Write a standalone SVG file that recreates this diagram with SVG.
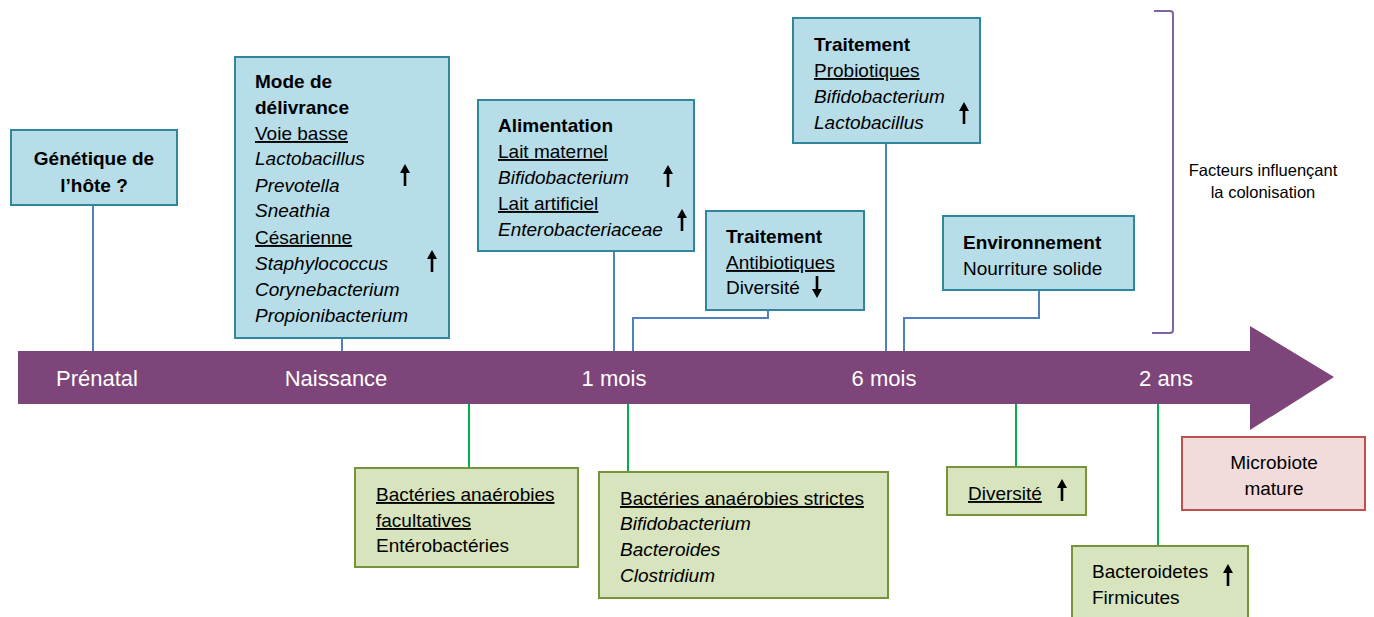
<svg xmlns="http://www.w3.org/2000/svg" xmlns:xlink="http://www.w3.org/1999/xlink" width="1374" height="617" viewBox="0 0 1374 617">
<style>
text{font-family:"Liberation Sans",Arial,sans-serif;font-size:19px;fill:#000}
.b{font-weight:bold}
.i{font-style:italic}
.u{text-decoration:underline}
.c{text-anchor:middle}
.ax{fill:#fff;font-size:22px;text-anchor:middle}
.blue{fill:#b7dde8;stroke:#31859c;stroke-width:2}
.green{fill:#d7e4bd;stroke:#77933c;stroke-width:2}
.pink{fill:#f2dcdb;stroke:#c0504d;stroke-width:2}
.cb{fill:none;stroke:#4f81bd;stroke-width:2}
.cg{fill:none;stroke:#00b050;stroke-width:2}
</style>
<defs>
<g id="up"><line x1="0" y1="22" x2="0" y2="7" stroke="#000" stroke-width="2.6"/><polygon points="-5,9 0,0 5,9" fill="#000"/></g>
<g id="down"><line x1="0" y1="0" x2="0" y2="15" stroke="#000" stroke-width="2.6"/><polygon points="-5,13 0,22 5,13" fill="#000"/></g>
</defs>
<rect width="1374" height="617" fill="#fff"/>

<g id="timeline">
<polygon points="18,351 1250,351 1250,326 1334,377 1250,430 1250,404 18,404" fill="#7e457a"/>
<text class="ax" x="97" y="386">Prénatal</text>
<text class="ax" x="336" y="386">Naissance</text>
<text class="ax" x="614" y="386">1 mois</text>
<text class="ax" x="884" y="386">6 mois</text>
<text class="ax" x="1166" y="386">2 ans</text>
</g>

<g id="connectors">
<path class="cb" d="M93,205 V351"/>
<path class="cb" d="M342,338 V351"/>
<path class="cb" d="M614,251 V351"/>
<path class="cb" d="M768,310 V318 H633 V351"/>
<path class="cb" d="M886,143 V351"/>
<path class="cb" d="M1039,290 V318 H904 V351"/>
<path class="cg" d="M469,404 V468"/>
<path class="cg" d="M628,404 V472"/>
<path class="cg" d="M1016,404 V467"/>
<path class="cg" d="M1158,404 V546"/>
</g>

<g id="genetique">
<rect class="blue" x="11" y="130" width="166" height="75"/>
<text class="b c" x="94" y="165">Génétique de</text>
<text class="b c" x="94" y="192">l’hôte ?</text>
</g>

<g id="delivrance">
<rect class="blue" x="235" y="57" width="214" height="281"/>
<text class="b" x="255" y="88">Mode de</text>
<text class="b" x="255" y="114">délivrance</text>
<text class="u" x="255" y="140">Voie basse</text>
<text class="i" x="255" y="165">Lactobacillus</text>
<text class="i" x="255" y="192">Prevotella</text>
<text class="i" x="255" y="217">Sneathia</text>
<text class="u" x="255" y="244">Césarienne</text>
<text class="i" x="255" y="270">Staphylococcus</text>
<text class="i" x="255" y="296">Corynebacterium</text>
<text class="i" x="255" y="322">Propionibacterium</text>
<use xlink:href="#up" x="405" y="164"/>
<use xlink:href="#up" x="432" y="250"/>
</g>

<g id="alimentation">
<rect class="blue" x="478" y="100" width="216" height="151"/>
<text class="b" x="498" y="132">Alimentation</text>
<text class="u" x="498" y="158">Lait maternel</text>
<text class="i" x="498" y="184">Bifidobacterium</text>
<text class="u" x="498" y="210">Lait artificiel</text>
<text class="i" x="498" y="236">Enterobacteriaceae</text>
<use xlink:href="#up" x="668" y="165"/>
<use xlink:href="#up" x="682" y="209"/>
</g>

<g id="antibiotiques">
<rect class="blue" x="706" y="211" width="158" height="99"/>
<text class="b" x="726" y="243">Traitement</text>
<text class="u" x="726" y="269">Antibiotiques</text>
<text x="726" y="294">Diversité</text>
<use xlink:href="#down" x="817" y="276"/>
</g>

<g id="probiotiques">
<rect class="blue" x="793" y="18" width="187" height="125"/>
<text class="b" x="814" y="51">Traitement</text>
<text class="u" x="814" y="77">Probiotiques</text>
<text class="i" x="814" y="103">Bifidobacterium</text>
<text class="i" x="814" y="129">Lactobacillus</text>
<use xlink:href="#up" x="964" y="102"/>
</g>

<g id="environnement">
<rect class="blue" x="943" y="216" width="191" height="74"/>
<text class="b" x="963" y="249">Environnement</text>
<text x="963" y="275">Nourriture solide</text>
</g>

<g id="facteurs">
<path d="M1154,11 H1170 Q1173,11 1173,14 V330 Q1173,333 1170,333 H1152" fill="none" stroke="#8064a2" stroke-width="2"/>
<text class="c" x="1263" y="176" style="font-size:16.5px">Facteurs influençant</text>
<text class="c" x="1263" y="198" style="font-size:16.5px">la colonisation</text>
</g>

<g id="facultatives">
<rect class="green" x="355" y="468" width="223" height="99"/>
<text class="u" x="376" y="501">Bactéries anaérobies</text>
<text class="u" x="376" y="527">facultatives</text>
<text x="376" y="552">Entérobactéries</text>
</g>

<g id="strictes">
<rect class="green" x="599" y="472" width="289" height="126"/>
<text class="u" x="620" y="505">Bactéries anaérobies strictes</text>
<text class="i" x="620" y="530">Bifidobacterium</text>
<text class="i" x="620" y="556">Bacteroides</text>
<text class="i" x="620" y="582">Clostridium</text>
</g>

<g id="diversite">
<rect class="green" x="947" y="467" width="139" height="48"/>
<text class="u" x="968" y="500">Diversité</text>
<use xlink:href="#up" x="1062" y="479"/>
</g>

<g id="microbiote">
<rect class="pink" x="1182" y="437" width="183" height="73"/>
<text class="c" x="1274" y="469">Microbiote</text>
<text class="c" x="1274" y="495">mature</text>
</g>

<g id="phyla">
<rect class="green" x="1072" y="546" width="176" height="80"/>
<text x="1092" y="578">Bacteroidetes</text>
<text x="1092" y="604">Firmicutes</text>
<use xlink:href="#up" x="1228" y="564"/>
</g>
</svg>
